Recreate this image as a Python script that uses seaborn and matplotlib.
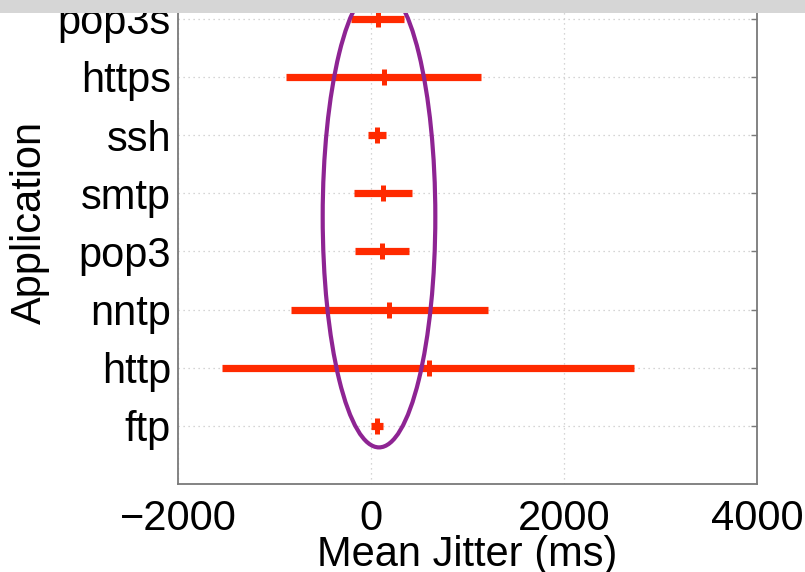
import matplotlib
matplotlib.use("Agg")
import matplotlib.pyplot as plt
from matplotlib.patches import Ellipse, Rectangle
import numpy as np
import pandas as pd
import seaborn as sns

# Jitter summary per application (ms): mean and range of the per-flow means
applications = ["ftp", "http", "nntp", "pop3", "smtp", "ssh", "https", "pop3s"]
jitter_mean = [62, 596, 187, 114, 124, 62, 135, 73]
jitter_low = [0, -1544, -829, -166, -176, -31, -881, -207]
jitter_high = [124, 2725, 1212, 394, 425, 155, 1140, 342]

x_ticks = [-2000, 0, 2000, 4000]

df = pd.DataFrame({
    "app": applications,
    "pos": np.arange(1, len(applications) + 1),
    "mean": jitter_mean,
    "low": jitter_low,
    "high": jitter_high,
})

sns.set_style("white")
plt.rcParams["font.family"] = ["Liberation Sans", "DejaVu Sans"]

fig = plt.figure(figsize=(8.05, 5.72), dpi=100)
ax = fig.add_axes([0.2211, 0.1538, 0.7193, 0.9149])

red = "#ff2a00"
purple = "#8e2493"

# range of each application as a thick horizontal bar
ax.hlines(df["pos"], df["low"], df["high"], color=red, linewidth=5.2,
          capstyle="butt", zorder=3)
# mean marked with a short vertical tick
sns.scatterplot(data=df, x="mean", y="pos", marker="|", s=120, linewidth=3.6,
                color=red, ax=ax, zorder=4, legend=False)

# highlight around the low-jitter cluster
ax.add_patch(Ellipse((83, 4.60), width=1167, height=7.94, fill=False,
                     edgecolor=purple, linewidth=3.0, zorder=5))

ax.set_xlim(-2000, 4000)
ax.set_ylim(0, 9)
ax.set_xticks(x_ticks)
ax.set_xticklabels(["\u22122000", "0", "2000", "4000"])
ax.set_yticks(df["pos"])
ax.set_yticklabels(df["app"])

ax.grid(True, linestyle=(0, (1, 3)), color="#c8c8c8", linewidth=0.9)
ax.set_axisbelow(True)

for s in ax.spines.values():
    s.set_color("#7a7a7a")
    s.set_linewidth(1.3)

ax.tick_params(axis="both", direction="in", length=4, width=1.0,
               color="#7a7a7a", labelsize=30, labelcolor="black",
               top=True, right=True)
ax.tick_params(axis="y", pad=5)
ax.tick_params(axis="x", pad=11)

ax.set_xlabel("Mean Jitter (ms)", fontsize=30, color="black", labelpad=-3)
ax.set_ylabel("Application", fontsize=30, color="black", labelpad=6)

# light gray band across the top edge
fig.add_artist(Rectangle((0, 1 - 13 / 572), 1, 13 / 572, transform=fig.transFigure,
                         facecolor="#d6d6d6", edgecolor="none", zorder=20))

fig.savefig("out.png", dpi=100)
